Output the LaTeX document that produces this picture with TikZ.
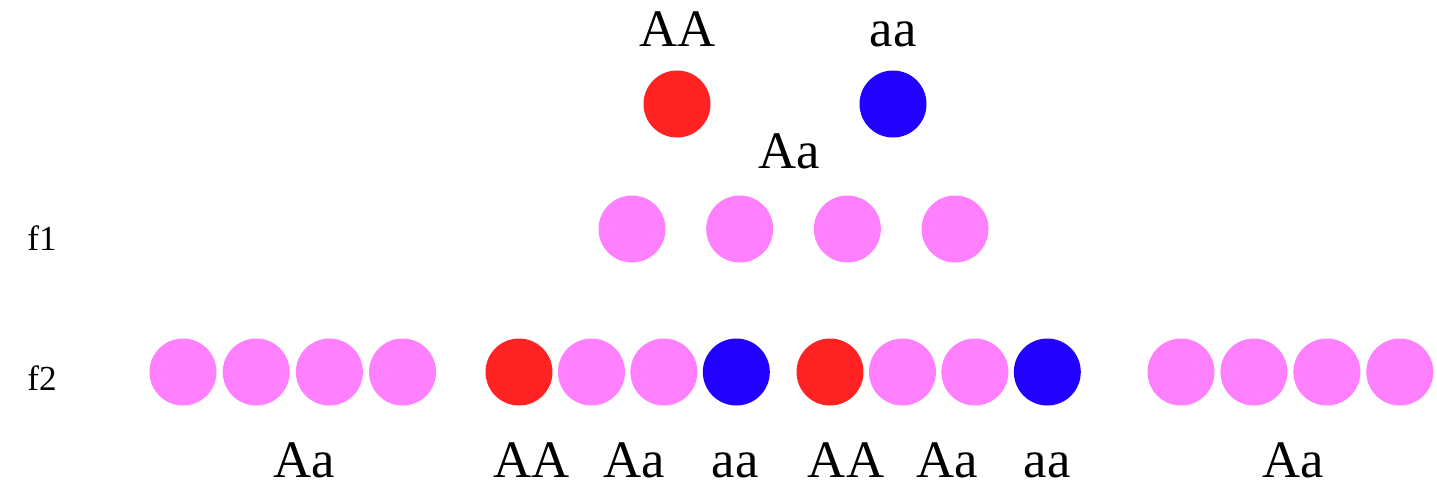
\documentclass[tikz,border=0pt]{standalone}
\usepackage{fontspec}
\setmainfont{Liberation Serif}
\usepackage{tikz}
\definecolor{AllelRed}{HTML}{FF2222}
\definecolor{AllelBlue}{HTML}{2200FF}
\definecolor{AllelPink}{HTML}{FF80FF}
\usetikzlibrary{
	positioning
}

\begin{document}
\begin{tikzpicture}[
	x=0.02cm, y=-0.02cm,
	dot/.style={circle, inner sep=0pt, minimum size=1.34cm},
	dom/.style={dot, fill=AllelRed},
	rec/.style={dot, fill=AllelBlue},
	het/.style={dot, fill=AllelPink},
	geno/.style={anchor=base, inner sep=0pt, text depth=0pt, font=\fontsize{30}{32}\selectfont},
	gen/.style={anchor=base west, inner sep=0pt, text depth=0pt, font=\fontsize{20}{22}\selectfont}
]
	\useasboundingbox (0,0) rectangle (1437,485);

	% parents
	\node[dom] (pAA) at (677,104) {};
	\node[rec] (paa) at (893,104) {};
	\node[geno] (lAA) at (678,46) {AA};
	\node[geno] (laa) at (893,46) {aa};
	\node[geno] (lAa) at (789,168) {Aa};

	% f1
	\node[gen] (f1) at (27,250) {f1};
	\node[het] (a1) at (632,229) {};
	\node[het, right=0.8cm of a1] (a2) {};
	\node[het, right=0.8cm of a2] (a3) {};
	\node[het, right=0.8cm of a3] (a4) {};

	% f2
	\node[gen] (f2) at (27,390) {f2};
	\node[het] (b1) at (183,372) {};
	\node[het, right=0.11cm of b1] (b2) {};
	\node[het, right=0.11cm of b2] (b3) {};
	\node[het, right=0.11cm of b3] (b4) {};

	\node[dom] (c1) at (519,372) {};
	\node[het, right=0.095cm of c1] (c2) {};
	\node[het, right=0.095cm of c2] (c3) {};
	\node[rec, right=0.095cm of c3] (c4) {};

	\node[dom] (d1) at (830,372) {};
	\node[het, right=0.095cm of d1] (d2) {};
	\node[het, right=0.095cm of d2] (d3) {};
	\node[rec, right=0.095cm of d3] (d4) {};

	\node[het] (e1) at (1181,372) {};
	\node[het, right=0.105cm of e1] (e2) {};
	\node[het, right=0.105cm of e2] (e3) {};
	\node[het, right=0.105cm of e3] (e4) {};

	\node[geno] (lb) at (304,477) {Aa};
	\node[geno] (lc1) at (532,477) {AA};
	\node[geno] (lc2) at (634,477) {Aa};
	\node[geno] (lc3) at (735,477) {aa};
	\node[geno] (ld1) at (846,477) {AA};
	\node[geno] (ld2) at (947,477) {Aa};
	\node[geno] (ld3) at (1047,477) {aa};
	\node[geno] (le) at (1293,477) {Aa};

\end{tikzpicture}
\end{document}
